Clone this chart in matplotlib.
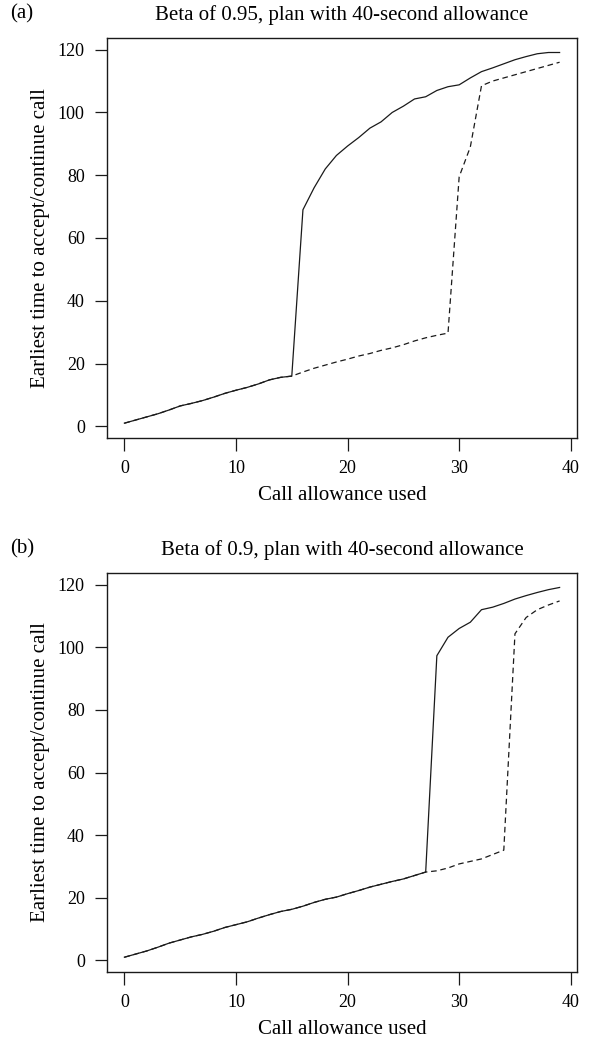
import matplotlib
matplotlib.use("Agg")
import matplotlib.pyplot as plt

# call allowance used (x) for both panels
allowance = list(range(40))

# (a) beta 0.95
accept_a = [1, 2, 3, 4, 5.2, 6.5, 7.3, 8.2, 9.3, 10.5, 11.5, 12.4, 13.5, 14.8, 15.6, 16,
            69, 76, 82, 86.3, 89.3, 92, 95, 97, 100, 102, 104.3, 105, 107, 108.2, 108.8,
            111, 113, 114.2, 115.5, 116.8, 117.8, 118.7, 119.1, 119.1]
continue_a = [1, 2, 3, 4, 5.2, 6.5, 7.3, 8.2, 9.3, 10.5, 11.5, 12.4, 13.5, 14.8, 15.6, 16,
              17.3, 18.5, 19.5, 20.5, 21.4, 22.4, 23.2, 24.2, 25, 26, 27.2, 28.2, 29, 29.7,
              79.5, 89, 108.5, 110, 111, 112, 113, 114, 115, 116]

# (b) beta 0.9
accept_b = [1, 2, 3, 4.2, 5.5, 6.5, 7.5, 8.3, 9.3, 10.5, 11.4, 12.3, 13.5, 14.6, 15.6, 16.3,
            17.3, 18.5, 19.5, 20.2, 21.3, 22.3, 23.4, 24.3, 25.2, 26, 27.1, 28.2,
            97.3, 103.2, 106, 108, 112, 112.8, 114, 115.4, 116.5, 117.5, 118.4, 119.1]
continue_b = [1, 2, 3, 4.2, 5.5, 6.5, 7.5, 8.3, 9.3, 10.5, 11.4, 12.3, 13.5, 14.6, 15.6, 16.3,
              17.3, 18.5, 19.5, 20.2, 21.3, 22.3, 23.4, 24.3, 25.2, 26, 27.1, 28.2,
              28.6, 29.5, 30.8, 31.6, 32.4, 33.8, 35.2, 104.3, 109.5, 112, 113.5, 114.8]

titles = ["Beta of 0.95, plan with 40-second allowance",
          "Beta of 0.9, plan with 40-second allowance"]
panel_tags = ["(a)", "(b)"]
x_ticks = [0, 10, 20, 30, 40]
y_ticks = [0, 20, 40, 60, 80, 100, 120]

plt.rcParams["font.family"] = ["Liberation Serif", "DejaVu Serif"]
plt.rcParams["font.size"] = 15

W, H = 589, 1045
INK = "#1a1a1a"


def draw_panel(fig, box, tag, title, solid, dashed):
    left, top, right, bottom = box  # pixels
    ax = fig.add_axes([left / W, 1 - bottom / H, (right - left) / W, (bottom - top) / H])
    ax.plot(allowance, dashed, color=INK, lw=0.9, linestyle=(0, (4.5, 3)))
    ax.plot(allowance, solid, color=INK, lw=0.9)
    # R-style 4% padding around the data range
    ax.set_xlim(-1.56, 40.56)
    ax.set_ylim(-3.72, 123.72)
    ax.set_xticks(x_ticks)
    ax.set_yticks(y_ticks)
    ax.tick_params(direction="out", length=9, width=0.9, color=INK, pad=7, labelsize=13)
    for spine in ax.spines.values():
        spine.set_linewidth(1.0)
        spine.set_color(INK)
    h = bottom - top
    w = right - left
    ax.set_xlabel("Call allowance used", va="center")
    ax.xaxis.set_label_coords(0.5, -57 / h)
    ax.set_ylabel("Earliest time to accept/continue call", va="center")
    ax.yaxis.set_label_coords(-66 / w, 0.5)
    ax.text(0.5, 1 + 23 / h, title, transform=ax.transAxes, ha="center", va="center")
    fig.text(10 / W, 1 - (top - 24) / H, tag, ha="left", va="center")
    return ax


def main():
    fig = plt.figure(figsize=(W / 100, H / 100), dpi=100)
    draw_panel(fig, (107, 38, 577, 438), panel_tags[0], titles[0], accept_a, continue_a)
    draw_panel(fig, (107, 573, 577, 972), panel_tags[1], titles[1], accept_b, continue_b)
    fig.savefig("out.png", dpi=100)
    plt.close(fig)


if __name__ == "__main__":
    main()
